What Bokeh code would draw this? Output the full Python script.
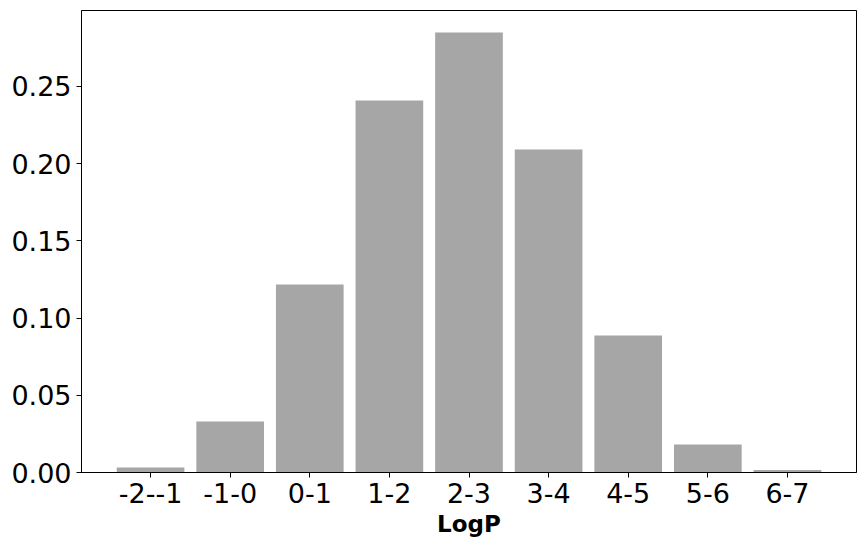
from bokeh.plotting import figure
from bokeh.models import ColumnDataSource, FixedTicker, Range1d
from bokeh.embed import file_html
from bokeh.resources import INLINE

categories = ["-2--1", "-1-0", "0-1", "1-2", "2-3", "3-4", "4-5", "5-6", "6-7"]
fractions = [0.0032, 0.0330, 0.1217, 0.2409, 0.2850, 0.2092, 0.0887, 0.0181, 0.0017]
y_ticks = [0.0, 0.05, 0.10, 0.15, 0.20, 0.25]
y_tick_labels = ["0.00", "0.05", "0.10", "0.15", "0.20", "0.25"]

xs = list(range(len(categories)))
src = ColumnDataSource(dict(x=xs, top=fractions, cat=categories))

p = figure(frame_width=775, frame_height=462, output_backend="svg", toolbar_location=None,
           x_range=Range1d(-0.8675, len(categories) - 1 + 0.8675),
           y_range=Range1d(0, 0.2992),
           min_border_left=81, min_border_top=10, min_border_right=2, min_border_bottom=66)

p.vbar(x="x", top="top", bottom=0, width=0.85, source=src, fill_color="#a6a6a6", line_color=None)

p.xgrid.visible = False
p.ygrid.visible = False
p.outline_line_color = "black"
p.outline_line_width = 1
p.outline_line_alpha = 1

p.xaxis.ticker = FixedTicker(ticks=xs)
p.xaxis.major_label_overrides = {i: c for i, c in zip(xs, categories)}
p.yaxis.ticker = FixedTicker(ticks=y_ticks)
p.yaxis.major_label_overrides = {t: l for t, l in zip(y_ticks, y_tick_labels)}

for ax in (p.xaxis[0], p.yaxis[0]):
    ax.major_label_text_font = "DejaVu Sans"
    ax.major_label_text_font_size = "27px"
    ax.major_label_text_color = "black"
    ax.major_tick_out = 5
    ax.major_tick_in = 0
    ax.minor_tick_out = 0
    ax.minor_tick_in = 0
    ax.axis_line_color = "black"
    ax.major_tick_line_color = "black"
    ax.major_label_standoff = 5

p.xaxis.axis_label = "LogP"
p.xaxis.axis_label_text_font = "DejaVu Sans"
p.xaxis.axis_label_text_font_style = "bold"
p.xaxis.axis_label_text_font_size = "23px"
p.xaxis.axis_label_text_color = "black"
p.xaxis.axis_label_standoff = 5

open("out.html", "w").write(file_html(p, INLINE))
